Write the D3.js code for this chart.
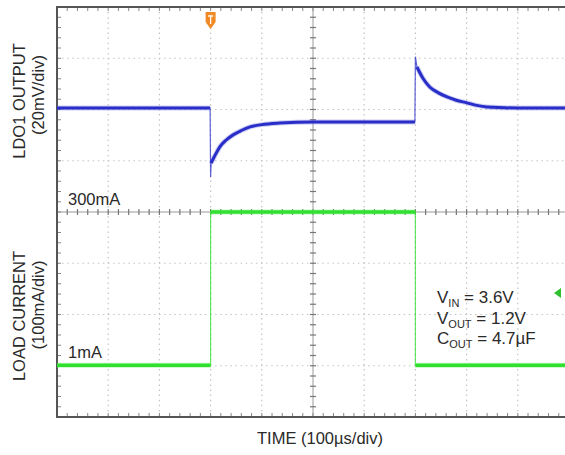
<!DOCTYPE html>
<html>
<head>
<meta charset="utf-8">
<script src="https://cdn.jsdelivr.net/npm/d3@7"></script>
<style>
  body { margin: 0; background: #fff; }
  text { font-family: Arial, "Liberation Sans", sans-serif; fill: #2a2a2a; }
</style>
</head>
<body>
<svg width="565" height="455"></svg>
<script>
// LDO1 output (mV deviation from 1.2V) vs time (us)
const vTime = [0, 100, 200, 299, 300, 301, 310, 318, 330, 344, 360, 377, 400, 435, 500, 600, 699, 700, 703, 715, 728, 745, 762, 780, 801, 820, 840, 900, 1000];
const vOut  = [0, 0, 0, 0, -27, -21.5, -18, -15.2, -12.6, -10.5, -8.8, -7.4, -6.5, -5.9, -5.5, -5.5, -5.5, 20, 16, 11.5, 8.2, 5.9, 4.3, 3, 2, 1, 0.4, 0, 0];

// load current (mA) vs time (us)
const iTime = [0, 300, 300, 700, 700, 1000];
const iLoad = [1, 1, 300, 300, 1, 1];

const levelLabels = ["300mA", "1mA"];
const condLabels = [["V", "IN", " = 3.6V"], ["V", "OUT", " = 1.2V"], ["C", "OUT", " = 4.7\u00b5F"]];

const svg = d3.select("svg");
const pLeft = 57, pTop = 7, pBottom = 417, pRight = 569;
const xDivs = 10, yDivs = 8;

const x = d3.scaleLinear().domain([0, 1000]).range([pLeft, pRight]);
const yDiv = d3.scaleLinear().domain([0, yDivs]).range([pTop, pBottom]);
const yV = d3.scaleLinear().domain([39.4, -120.6]).range([pTop, pBottom]);
const yI = d3.scaleLinear().domain([-100, 700]).range([pBottom, pTop]);

const grid = svg.append("g").attr("class", "grid");
const dx = (pRight - pLeft) / xDivs, dy = (pBottom - pTop) / yDivs;

// dotted division lines
d3.range(1, xDivs).filter(i => i !== 5).forEach(i => {
  grid.append("line")
    .attr("x1", pLeft + i * dx).attr("x2", pLeft + i * dx)
    .attr("y1", pTop).attr("y2", pBottom)
    .style("stroke", "#c4c4c4").style("stroke-width", 1.2)
    .style("stroke-dasharray", "1.5,3.6");
});
d3.range(1, yDivs).filter(i => i !== 4).forEach(i => {
  grid.append("line")
    .attr("x1", pLeft).attr("x2", pRight)
    .attr("y1", yDiv(i)).attr("y2", yDiv(i))
    .style("stroke", "#c4c4c4").style("stroke-width", 1.2)
    .style("stroke-dasharray", "1.5,3.6");
});

// centre axes with minor ticks
const cx = pLeft + 5 * dx, cy = yDiv(4);
grid.append("line").attr("x1", cx).attr("x2", cx).attr("y1", pTop).attr("y2", pBottom)
  .style("stroke", "#9a9a9a").style("stroke-width", 1);
grid.append("line").attr("x1", pLeft).attr("x2", pRight).attr("y1", cy).attr("y2", cy)
  .style("stroke", "#9a9a9a").style("stroke-width", 1);
d3.range(1, yDivs * 5).forEach(k => {
  const yy = pTop + k * dy / 5;
  grid.append("line").attr("x1", cx - 3).attr("x2", cx + 3).attr("y1", yy).attr("y2", yy)
    .style("stroke", "#777").style("stroke-width", 1.2);
  grid.append("line").attr("x1", pLeft).attr("x2", pLeft + 4).attr("y1", yy).attr("y2", yy)
    .style("stroke", "#888").style("stroke-width", 1);
});
d3.range(1, xDivs * 5).forEach(k => {
  const xx = pLeft + k * dx / 5;
  grid.append("line").attr("x1", xx).attr("x2", xx).attr("y1", cy - 3).attr("y2", cy + 3)
    .style("stroke", "#777").style("stroke-width", 1.2);
  grid.append("line").attr("x1", xx).attr("x2", xx).attr("y1", pBottom - 4).attr("y2", pBottom)
    .style("stroke", "#888").style("stroke-width", 1);
  grid.append("line").attr("x1", xx).attr("x2", xx).attr("y1", pTop).attr("y2", pTop + 4)
    .style("stroke", "#888").style("stroke-width", 1);
});

// frame
svg.append("path")
  .attr("d", `M${pRight},${pTop}H${pLeft}V${pBottom}H${pRight}`)
  .style("fill", "none").style("stroke", "#555").style("stroke-width", 2);

// split a trace: thin line everywhere, thick band only on slow segments
function drawTrace(ts, vs, yScale, color, thick, bandColor) {
  const pts = ts.map((t, i) => [x(t), yScale(vs[i])]);
  const slow = [];
  pts.forEach((p, i) => {
    if (i > 0) {
      const q = pts[i - 1];
      const steep = Math.abs(p[1] - q[1]) > 4 * Math.abs(p[0] - q[0]) + 1;
      if (steep) slow.push(null);
    }
    slow.push(p);
  });
  const line = d3.line().defined(d => d !== null).curve(d3.curveMonotoneX);
  svg.append("path").attr("d", d3.line()(pts))
    .style("fill", "none").style("stroke", color).style("stroke-width", 1.2).style("opacity", 0.75);
  svg.append("path").attr("d", line(slow))
    .style("fill", "none").style("stroke", bandColor).style("stroke-width", thick + 2)
    .style("opacity", 0.35).style("stroke-linejoin", "round");
  svg.append("path").attr("d", line(slow))
    .style("fill", "none").style("stroke", color).style("stroke-width", thick)
    .style("stroke-linejoin", "round");
}

drawTrace(iTime, iLoad, yI, "#2fe02f", 3.5, "#7ff07f");
drawTrace(vTime, vOut, yV, "#2a2ec8", 3, "#6a6ee0");

// trigger marker
const tx = x(300);
svg.append("path")
  .attr("d", `M${tx - 5},${pTop + 5}h10v10l-5,7l-5,-7z`)
  .style("fill", "#f08a24");
svg.append("path")
  .attr("d", `M${tx - 2.5},${pTop + 9}h5M${tx},${pTop + 9}v8`)
  .style("stroke", "#fff").style("stroke-width", 1.3).style("fill", "none");

// channel marker
svg.append("path")
  .attr("d", "M554,293l7,-5v10z")
  .style("fill", "#2fc02f");

// level labels
svg.append("text").attr("x", 68).attr("y", 205).style("font-size", "16.5px").text(levelLabels[0]);
svg.append("text").attr("x", 68).attr("y", 358).style("font-size", "16.5px").text(levelLabels[1]);

// axis titles
function vlabel(txt, xx, yy) {
  svg.append("text")
    .attr("transform", `translate(${xx},${yy}) rotate(-90)`)
    .attr("text-anchor", "middle")
    .style("font-size", "16.5px")
    .text(txt);
}
vlabel("LDO1 OUTPUT", 25, 101);
vlabel("(20mV/div)", 44, 95);
vlabel("LOAD CURRENT", 25, 316);
vlabel("(100mA/div)", 44, 305);

svg.append("text").attr("x", 320).attr("y", 444).attr("text-anchor", "middle")
  .style("font-size", "16.5px").text("TIME (100\u00b5s/div)");

// conditions
condLabels.forEach((c, i) => {
  const t = svg.append("text").attr("x", 437).attr("y", 303 + i * 20.5).style("font-size", "17px");
  t.append("tspan").text(c[0]);
  t.append("tspan").attr("dy", 4).style("font-size", "11px").text(c[1]);
  t.append("tspan").attr("dy", -4).text(c[2]);
});
</script>
</body>
</html>
